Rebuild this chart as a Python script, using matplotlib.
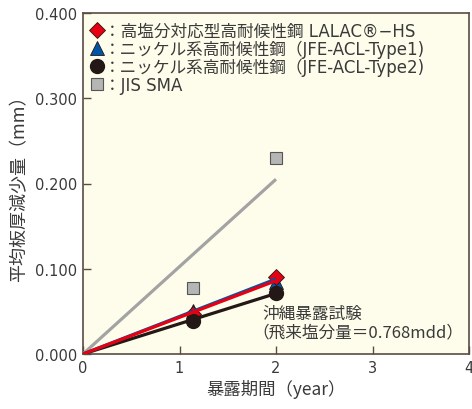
import matplotlib
matplotlib.use("Agg")
import matplotlib.pyplot as plt
from matplotlib.lines import Line2D

plt.rcParams["font.family"] = ["Noto Sans CJK JP", "DejaVu Sans"]
latin_first = ["DejaVu Sans", "Noto Sans CJK JP"]

# measured points (exposure years, mean thickness loss mm)
years = [1.14, 2.0]
lalac = [0.047, 0.090]
ni_type1 = [0.050, 0.085]
ni_type2 = [0.039, 0.072]
jis_sma = [0.077, 0.230]

# fitted lines from origin to 2 years
fit_x = [0, 2.0]
fit_lalac = [0, 0.086]
fit_type1 = [0, 0.088]
fit_type2 = [0, 0.071]
fit_sma = [0, 0.205]

labels = [
    "：高塩分対応型高耐候性鋼 LALAC®−HS",
    "：ニッケル系高耐候性鋼（JFE-ACL-Type1)",
    "：ニッケル系高耐候性鋼（JFE-ACL-Type2)",
    "：JIS SMA",
]

xticks = [0, 1, 2, 3, 4]
yticks = [0.0, 0.1, 0.2, 0.3, 0.4]

bg = "#fefdeb"
frame = "#5a4c44"
txt = "#3a3a3a"
red = "#e60012"
blue = "#0054a6"
black = "#231815"
gray_line = "#a3a3a3"
gray_fill = "#b5b5b5"

fig = plt.figure(figsize=(4.72, 4.10), dpi=100)
ax = fig.add_axes([83 / 472, 55 / 410, 386 / 472, 341 / 410])
ax.set_facecolor(bg)

# markers
ax.plot(years, jis_sma, "s", ms=8.5, mfc=gray_fill, mec="#555555", mew=0.8, ls="none", zorder=2)
ax.plot(years, ni_type1, "^", ms=10, mfc=blue, mec=black, mew=0.6, ls="none", zorder=2)
ax.plot(years, lalac, "D", ms=8.5, mfc=red, mec=black, mew=0.6, ls="none", zorder=2)
ax.plot(years, ni_type2, "o", ms=10, mfc=black, mec=black, ls="none", zorder=2)

# fitted lines
ax.plot(fit_x, fit_sma, color=gray_line, lw=2.3, solid_capstyle="butt", zorder=3)
ax.plot(fit_x, fit_type2, color=black, lw=2.3, solid_capstyle="butt", zorder=3)
ax.plot(fit_x, fit_type1, color=blue, lw=2.3, solid_capstyle="butt", zorder=3)
ax.plot(fit_x, fit_lalac, color=red, lw=2.3, solid_capstyle="butt", zorder=3)

ax.text(1.855, 0.047, "沖縄暴露試験", fontsize=12, color=txt, va="center", ha="left")
ax.text(1.76, 0.026, "（飛来塩分量＝0.768mdd）", fontsize=12, color=txt, va="center", ha="left")

handles = [
    Line2D([], [], marker="D", ms=8.5, mfc=red, mec=black, mew=0.6, ls="none"),
    Line2D([], [], marker="^", ms=10, mfc=blue, mec=black, mew=0.6, ls="none"),
    Line2D([], [], marker="o", ms=10, mfc=black, mec=black, ls="none"),
    Line2D([], [], marker="s", ms=8.5, mfc=gray_fill, mec="#555555", mew=0.8, ls="none"),
]
leg = ax.legend(handles, labels, loc="upper left", frameon=False,
                prop={"family": latin_first, "size": 12},
                handlelength=0.7, handletextpad=0.05, labelspacing=0.0,
                borderaxespad=0.0, borderpad=0.3, bbox_to_anchor=(0.008, 0.99),
                labelcolor=txt)

ax.set_xlim(0, 4)
ax.set_ylim(0, 0.4)
ax.set_xticks(xticks)
ax.set_xticklabels([str(t) for t in xticks], family=latin_first)
ax.set_yticks(yticks)
ax.set_yticklabels([f"{t:.3f}" for t in yticks], family=latin_first)
ax.tick_params(direction="in", length=6, width=1, color=frame, labelcolor=txt, labelsize=10.5, pad=4)
for s in ax.spines.values():
    s.set_color(frame)
    s.set_linewidth(1.2)

ax.set_xlabel("暴露期間（year）", fontsize=12.5, color=txt, labelpad=3)
ax.set_ylabel("平均板厚減少量（mm）", fontsize=13, color=txt, labelpad=5)

fig.savefig("out.png", dpi=100, facecolor="white")
